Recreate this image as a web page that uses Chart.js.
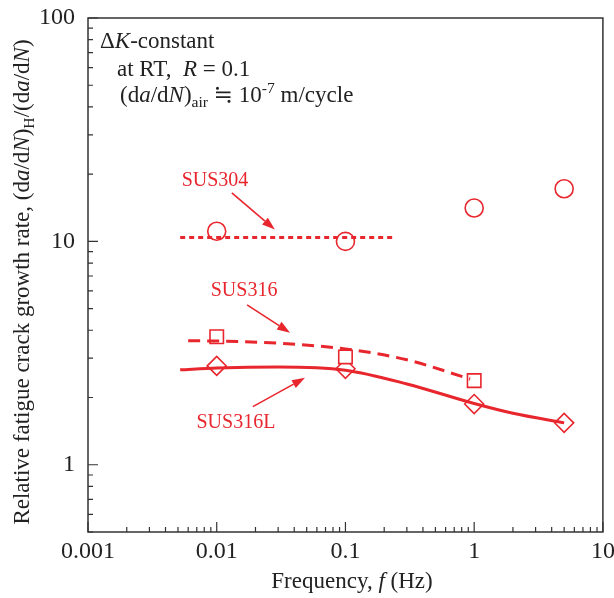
<!DOCTYPE html>
<html>
<head>
<meta charset="utf-8">
<script src="https://cdn.jsdelivr.net/npm/chart.js@4.4.0/dist/chart.umd.min.js"></script>
<style>
  html, body { margin: 0; padding: 0; background: #fff; }
  #wrap { width: 614px; height: 598px; }
</style>
</head>
<body>
<div id="wrap"><canvas id="myChart" width="614" height="598"></canvas></div>
<script>
// measured points
const freqMarks = [0.01, 0.1, 1, 5];
const sus304Rate = [11.1, 10.0, 14.1, 17.2];
const sus316Freq = [0.01, 0.1, 1];
const sus316Rate = [3.74, 3.04, 2.38];
const sus316LRate = [2.77, 2.69, 1.87, 1.54];

// fitted lines
const sus304FitFreq = [0.0052, 0.234];
const sus304FitRate = [10.4, 10.4];
const sus316FitFreq = [0.006, 0.01, 0.03, 0.1, 0.3, 0.93];
const sus316FitRate = [3.59, 3.58, 3.5, 3.3, 2.95, 2.42];
const sus316LFitFreq = [0.0052, 0.01, 0.03, 0.1, 0.3, 1, 2, 5];
const sus316LFitRate = [2.66, 2.71, 2.74, 2.65, 2.3, 1.88, 1.7, 1.54];

// axes
const xTicks = [0.001, 0.01, 0.1, 1, 10];
const xTickLabels = ['0.001', '0.01', '0.1', '1', '10'];
const yTicks = [1, 10, 100];
const yTickLabels = ['1', '10', '100'];

// labels + arrows (data coords)
const notes = [
  { text: 'SUS304', x: 0.0097, y: 18.6, from: [0.0131, 16.5], to: [0.0283, 11.3] },
  { text: 'SUS316', x: 0.0163, y: 6.0, from: [0.0172, 5.2], to: [0.0371, 3.9] },
  { text: 'SUS316L', x: 0.0141, y: 1.54, from: [0.0191, 1.82], to: [0.0485, 2.45] }
];

const RED = '#e8262d';
const AXIS = '#333333';
const SERIF = "'Liberation Serif', 'DejaVu Serif', serif";

const pts = (xs, ys) => xs.map((x, i) => ({ x: x, y: ys[i] }));

function richText(ctx, parts, x, y, size, align) {
  // parts: [text, style] style: i = italic, sub, sup
  const fontFor = (st) => {
    let s = (st === 'sub' || st === 'sup') ? size * 0.68 : size;
    return (st === 'i' ? 'italic ' : '') + s + 'px ' + SERIF;
  };
  let total = 0;
  parts.forEach(p => { ctx.font = fontFor(p[1]); total += ctx.measureText(p[0]).width; });
  let cx = align === 'center' ? x - total / 2 : x;
  ctx.textAlign = 'left';
  ctx.textBaseline = 'alphabetic';
  parts.forEach(p => {
    ctx.font = fontFor(p[1]);
    let dy = p[1] === 'sub' ? size * 0.22 : (p[1] === 'sup' ? -size * 0.4 : 0);
    ctx.fillText(p[0], cx, y + dy);
    cx += ctx.measureText(p[0]).width;
  });
}

function arrow(ctx, x1, y1, x2, y2) {
  const a = Math.atan2(y2 - y1, x2 - x1);
  const len = 13, w = 4.5;
  ctx.beginPath();
  ctx.moveTo(x1, y1);
  ctx.lineTo(x2 - len * Math.cos(a), y2 - len * Math.sin(a));
  ctx.stroke();
  ctx.beginPath();
  ctx.moveTo(x2, y2);
  ctx.lineTo(x2 - len * Math.cos(a) + w * Math.sin(a), y2 - len * Math.sin(a) - w * Math.cos(a));
  ctx.lineTo(x2 - len * Math.cos(a) - w * Math.sin(a), y2 - len * Math.sin(a) + w * Math.cos(a));
  ctx.closePath();
  ctx.fill();
}

const framePlugin = {
  id: 'frame',
  afterDraw(chart) {
    const ctx = chart.ctx;
    const ca = chart.chartArea;
    const xs = chart.scales.x, ys = chart.scales.y;
    ctx.save();
    ctx.strokeStyle = AXIS;
    ctx.lineWidth = 1.5;
    ctx.strokeRect(ca.left, ca.top, ca.right - ca.left, ca.bottom - ca.top);

    // inward ticks
    ctx.lineWidth = 1.2;
    ctx.beginPath();
    for (let e = -4; e <= 2; e++) {
      for (let k = 1; k <= 9; k++) {
        const v = k * Math.pow(10, e);
        const big = k === 1 ? 10 : 5;
        if (v >= xs.min * 0.999 && v <= xs.max * 1.001) {
          const px = xs.getPixelForValue(v);
          ctx.moveTo(px, ca.bottom);
          ctx.lineTo(px, ca.bottom - big);
        }
        if (v >= ys.min * 0.999 && v <= ys.max * 1.001) {
          const py = ys.getPixelForValue(v);
          ctx.moveTo(ca.left, py);
          ctx.lineTo(ca.left + big, py);
        }
      }
    }
    ctx.stroke();

    // notes and arrows
    ctx.fillStyle = RED;
    ctx.strokeStyle = RED;
    ctx.lineWidth = 1.6;
    ctx.font = '20px ' + SERIF;
    ctx.textAlign = 'center';
    ctx.textBaseline = 'middle';
    notes.forEach(n => {
      ctx.fillText(n.text, xs.getPixelForValue(n.x), ys.getPixelForValue(n.y));
      arrow(ctx, xs.getPixelForValue(n.from[0]), ys.getPixelForValue(n.from[1]),
        xs.getPixelForValue(n.to[0]), ys.getPixelForValue(n.to[1]));
    });

    // condition text
    ctx.fillStyle = '#222';
    richText(ctx, [['Δ', ''], ['K', 'i'], ['-constant', '']], ca.left + 12, 48, 23);
    richText(ctx, [['at RT,  ', ''], ['R', 'i'], [' = 0.1', '']], ca.left + 29, 76, 23);
    richText(ctx, [['(d', ''], ['a', 'i'], ['/d', ''], ['N', 'i'], [')', ''], ['air', 'sub'],
      [' ≒ 10', ''], ['-7', 'sup'], [' m/cycle', '']], ca.left + 32, 102, 23);

    // axis titles
    ctx.fillStyle = '#222';
    richText(ctx, [['Frequency, ', ''], ['f', 'i'], [' (Hz)', '']], 352, 588, 23, 'center');
    ctx.translate(29, 282);
    ctx.rotate(-Math.PI / 2);
    richText(ctx, [['Relative fatigue crack growth rate, (d', ''], ['a', 'i'], ['/d', ''], ['N', 'i'],
      [')', ''], ['H', 'sub'], ['/(d', ''], ['a', 'i'], ['/d', ''], ['N', 'i'], [')', '']], 0, 0, 23, 'center');
    ctx.restore();
  }
};

const lineDs = (data, dash) => ({
  data: data,
  showLine: true,
  borderColor: RED,
  borderWidth: 3,
  borderDash: dash,
  pointRadius: 0,
  tension: 0.4,
  cubicInterpolationMode: 'monotone',
  fill: false
});

const markDs = (data, style, r) => ({
  data: data,
  showLine: false,
  pointStyle: style,
  pointRadius: r,
  pointBorderWidth: 1.6,
  borderColor: RED,
  backgroundColor: '#fff',
  pointBackgroundColor: '#fff'
});

new Chart('myChart', {
  type: 'scatter',
  data: {
    datasets: [
      lineDs(pts(sus304FitFreq, sus304FitRate), [5, 4]),
      lineDs(pts(sus316FitFreq, sus316FitRate), [12, 7]),
      lineDs(pts(sus316LFitFreq, sus316LFitRate), []),
      markDs(pts(freqMarks, sus304Rate), 'circle', 9),
      markDs(pts(sus316Freq, sus316Rate), 'rect', 9.5),
      markDs(pts(freqMarks, sus316LRate), 'rectRot', 9.5)
    ]
  },
  options: {
    responsive: false,
    animation: false,
    layout: { padding: { top: 18, right: 11, left: 0, bottom: 0 } },
    plugins: { legend: { display: false }, tooltip: { enabled: false } },
    scales: {
      x: {
        type: 'logarithmic',
        min: 0.001,
        max: 10,
        grid: { display: false },
        border: { display: false },
        afterBuildTicks: (s) => { s.ticks = xTicks.map(v => ({ value: v })); },
        afterFit: (s) => { s.height = 66; s.paddingLeft = 0; s.paddingRight = 0; },
        ticks: {
          autoSkip: false,
          maxRotation: 0,
          padding: -3,
          color: '#222',
          font: { family: SERIF, size: 24 },
          callback: (v) => { const i = xTicks.indexOf(v); return i >= 0 ? xTickLabels[i] : ''; }
        }
      },
      y: {
        type: 'logarithmic',
        min: 0.5,
        max: 100,
        grid: { display: false },
        border: { display: false },
        afterBuildTicks: (s) => { s.ticks = yTicks.map(v => ({ value: v })); },
        afterFit: (s) => { s.width = 88; s.paddingTop = 0; s.paddingBottom = 0; },
        ticks: {
          autoSkip: false,
          padding: 5,
          color: '#222',
          font: { family: SERIF, size: 24 },
          callback: (v) => { const i = yTicks.indexOf(v); return i >= 0 ? yTickLabels[i] : ''; }
        }
      }
    }
  },
  plugins: [framePlugin]
});
</script>
</body>
</html>
